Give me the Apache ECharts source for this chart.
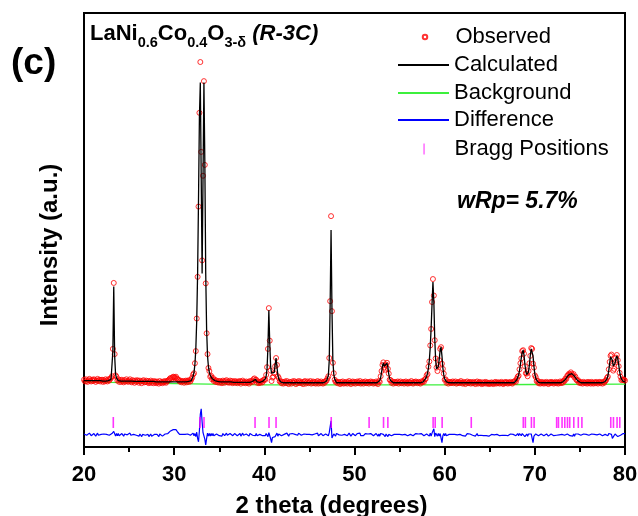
<!DOCTYPE html>
<html>
<head>
<meta charset="utf-8">
<script src="https://cdn.jsdelivr.net/npm/echarts@6/dist/echarts.min.js"></script>
<style>
  html, body { margin: 0; padding: 0; background: #fff; }
  #chart { width: 638px; height: 516px; }
</style>
</head>
<body>
<div id="chart"></div>
<script>
// Powder pattern of LaNi0.6Co0.4O3-d, sampled every 0.1 degree from 20 to 80 (2 theta).
const thetaStart = 20.0;
const thetaStep = 0.1;

// Observed intensity (a.u.)
const observed = [
  15.5, 15.1, 15.6, 15.2, 15.0, 15.4, 15.7, 15.3, 15.1, 15.5, // 20
  15.2, 15.6, 15.4, 15.0, 15.3, 15.7, 15.2, 15.5, 15.1, 15.4, // 21
  15.5, 15.0, 15.4, 15.1, 15.6, 15.3, 15.1, 15.6, 15.3, 15.7, // 22
  15.9, 16.3, 22.6, 37.8, 21.4, 16.5, 16.2, 15.3, 15.6, 15.0, // 23
  15.4, 15.0, 15.5, 15.2, 14.9, 15.4, 15.1, 15.6, 15.2, 15.0, // 24
  15.3, 15.6, 15.1, 14.9, 15.4, 15.2, 14.8, 15.3, 15.0, 15.4, // 25
  15.2, 14.8, 15.3, 15.1, 14.7, 15.2, 15.4, 14.9, 15.0, 15.3, // 26
  14.9, 15.2, 14.7, 15.0, 15.3, 14.8, 15.1, 14.7, 15.2, 15.0, // 27
  14.7, 15.1, 14.9, 14.6, 15.2, 14.8, 15.0, 14.7, 15.1, 14.9, // 28
  15.2, 14.8, 15.1, 15.3, 15.4, 15.7, 15.9, 15.6, 16.0, 16.2, // 29
  16.1, 15.9, 16.2, 15.8, 15.6, 15.4, 15.1, 15.3, 14.9, 15.1, // 30
  15.2, 14.8, 15.1, 15.3, 14.9, 15.3, 15.0, 15.4, 15.1, 15.6, // 31
  16.0, 16.7, 17.0, 19.3, 22.1, 29.6, 39.2, 55.4, 77.0, 88.7, // 32
  68.0, 43.0, 62.5, 84.3, 65.0, 37.7, 26.2, 21.4, 18.2, 17.5, // 33
  16.2, 16.4, 15.6, 15.9, 15.2, 15.5, 15.0, 15.3, 14.9, 15.2, // 34
  14.8, 15.2, 15.0, 14.7, 15.3, 15.1, 14.8, 15.2, 15.4, 14.9, // 35
  15.1, 14.8, 15.3, 14.9, 15.2, 14.7, 15.0, 15.2, 14.8, 15.1, // 36
  14.7, 15.1, 14.9, 15.2, 14.6, 15.0, 15.3, 14.8, 15.0, 14.7, // 37
  15.1, 14.8, 15.0, 14.6, 15.2, 14.9, 15.2, 15.0, 15.6, 15.8, // 38
  15.4, 15.5, 14.8, 15.1, 14.7, 15.0, 14.8, 15.2, 14.9, 15.4, // 39
  15.6, 15.5, 16.6, 18.4, 22.6, 32.0, 24.5, 17.6, 15.2, 16.0, // 40
  16.2, 17.0, 18.6, 20.5, 18.9, 16.3, 15.9, 15.1, 15.2, 14.7, // 41
  15.0, 14.6, 14.9, 15.1, 14.7, 15.2, 14.8, 14.5, 15.0, 14.9, // 42
  14.6, 15.1, 14.8, 15.2, 14.9, 14.5, 15.0, 14.7, 15.2, 14.8, // 43
  15.1, 14.7, 14.9, 14.5, 15.0, 15.2, 14.6, 14.9, 15.1, 14.7, // 44
  14.9, 15.2, 14.6, 14.8, 15.1, 14.7, 15.0, 14.6, 14.9, 15.2, // 45
  14.6, 15.0, 14.7, 15.1, 14.8, 14.6, 15.0, 14.8, 15.2, 15.3, // 46
  15.8, 16.3, 20.5, 33.6, 53.2, 31.3, 19.4, 17.0, 15.5, 15.0, // 47
  15.1, 14.7, 15.0, 14.8, 14.5, 15.0, 14.7, 15.1, 14.6, 14.9, // 48
  14.7, 15.0, 14.6, 14.9, 15.2, 14.8, 14.5, 14.9, 15.1, 14.7, // 49
  15.0, 14.6, 14.9, 15.1, 14.7, 14.9, 15.2, 14.6, 14.8, 15.0, // 50
  14.6, 14.9, 15.1, 14.7, 14.8, 15.0, 14.6, 14.9, 15.1, 14.8, // 51
  15.0, 14.6, 14.9, 14.7, 15.1, 14.8, 14.5, 15.2, 15.0, 16.3, // 52
  17.5, 18.9, 19.5, 18.3, 17.8, 19.0, 19.4, 18.0, 16.9, 15.5, // 53
  15.4, 14.8, 15.1, 14.6, 14.9, 15.0, 14.7, 14.9, 15.1, 14.6, // 54
  14.9, 15.1, 14.7, 14.8, 15.0, 14.6, 14.9, 15.1, 14.8, 14.6, // 55
  15.0, 14.7, 14.9, 15.2, 14.8, 14.6, 15.0, 14.8, 15.1, 14.9, // 56
  14.7, 15.0, 14.8, 14.6, 15.1, 14.9, 15.2, 15.0, 15.6, 15.7, // 57
  16.5, 16.8, 18.5, 19.7, 23.4, 27.2, 33.4, 38.7, 34.9, 24.6, // 58
  20.4, 18.3, 17.5, 18.9, 20.0, 22.6, 23.0, 19.2, 18.0, 16.9, // 59
  15.5, 15.6, 14.8, 15.1, 14.6, 14.9, 15.0, 14.7, 14.9, 15.1, // 60
  14.7, 14.9, 15.1, 14.6, 14.8, 15.0, 14.7, 14.9, 15.2, 14.8, // 61
  14.6, 15.0, 14.8, 14.5, 14.9, 15.1, 14.7, 14.8, 15.0, 14.6, // 62
  14.9, 14.7, 15.0, 14.8, 14.5, 14.9, 15.1, 14.6, 14.8, 15.0, // 63
  14.7, 14.5, 14.9, 14.6, 14.8, 15.0, 14.6, 14.9, 14.7, 14.5, // 64
  14.8, 14.6, 14.9, 14.7, 14.5, 14.8, 15.0, 14.6, 14.9, 14.7, // 65
  14.9, 14.6, 14.8, 15.0, 14.7, 14.5, 14.9, 14.7, 15.0, 14.8, // 66
  14.6, 14.9, 14.7, 15.0, 14.8, 14.6, 14.9, 15.1, 15.2, 15.0, // 67
  15.7, 16.2, 16.4, 17.9, 19.3, 20.4, 22.1, 22.3, 21.5, 18.6, // 68
  17.0, 16.9, 16.3, 17.5, 19.3, 21.0, 22.8, 22.6, 19.2, 18.3, // 69
  16.5, 16.1, 15.2, 15.3, 14.7, 14.9, 14.6, 15.0, 14.7, 14.9, // 70
  14.6, 14.9, 14.7, 15.0, 14.8, 14.5, 14.9, 14.7, 15.0, 14.8, // 71
  14.9, 14.6, 14.8, 15.0, 14.7, 14.9, 14.6, 14.8, 15.1, 14.7, // 72
  15.0, 14.8, 15.3, 15.2, 15.8, 15.7, 16.4, 16.6, 16.9, 16.7, // 73
  17.2, 16.8, 16.5, 16.8, 16.0, 16.2, 15.5, 15.3, 15.4, 14.8, // 74
  15.0, 14.7, 14.9, 14.6, 15.0, 14.8, 14.7, 14.9, 14.6, 15.0, // 75
  14.7, 14.9, 14.6, 15.0, 14.8, 14.6, 14.9, 14.7, 15.0, 14.8, // 76
  14.6, 14.9, 15.0, 14.7, 14.9, 14.6, 15.0, 14.8, 15.2, 15.4, // 77
  15.9, 16.2, 17.9, 19.6, 21.0, 21.3, 19.2, 17.6, 18.0, 19.5, // 78
  20.6, 21.2, 20.0, 18.6, 17.1, 16.2, 15.4, 15.6, 15.4, 15.5, // 79
  15.3                                                        // 80
];

// Calculated profile (a.u.)
const calculated = [
  15.3, 15.3, 15.3, 15.3, 15.3, 15.3, 15.3, 15.3, 15.3, 15.3, // 20
  15.3, 15.3, 15.3, 15.3, 15.3, 15.3, 15.3, 15.3, 15.3, 15.3, // 21
  15.2, 15.2, 15.2, 15.2, 15.2, 15.2, 15.3, 15.3, 15.4, 15.5, // 22
  15.6, 16.0, 22.0, 37.0, 21.0, 16.8, 15.9, 15.5, 15.3, 15.2, // 23
  15.2, 15.2, 15.2, 15.2, 15.2, 15.2, 15.2, 15.2, 15.2, 15.2, // 24
  15.2, 15.2, 15.2, 15.2, 15.2, 15.1, 15.1, 15.1, 15.1, 15.1, // 25
  15.1, 15.1, 15.1, 15.1, 15.1, 15.1, 15.1, 15.1, 15.1, 15.1, // 26
  15.1, 15.1, 15.1, 15.1, 15.1, 15.1, 15.1, 15.1, 15.1, 15.1, // 27
  15.0, 15.0, 15.0, 15.0, 15.0, 15.0, 15.0, 15.0, 15.0, 15.0, // 28
  15.0, 15.0, 15.0, 15.0, 15.0, 15.0, 15.0, 15.0, 15.0, 15.0, // 29
  15.0, 15.0, 15.0, 15.0, 15.0, 15.0, 15.0, 15.0, 15.0, 15.0, // 30
  15.0, 15.0, 15.0, 15.0, 15.1, 15.1, 15.1, 15.2, 15.2, 15.3, // 31
  15.8, 16.3, 17.2, 19.0, 22.5, 29.0, 40.0, 57.0, 76.0, 84.0, // 32
  62.0, 40.0, 62.0, 84.0, 66.0, 40.0, 27.0, 21.0, 18.5, 17.2, // 33
  16.5, 16.1, 15.8, 15.6, 15.4, 15.3, 15.2, 15.1, 15.1, 15.0, // 34
  15.0, 15.0, 15.0, 15.0, 15.0, 15.0, 15.0, 15.0, 15.0, 15.0, // 35
  15.0, 15.0, 15.0, 15.0, 15.0, 14.9, 14.9, 14.9, 14.9, 14.9, // 36
  14.9, 14.9, 14.9, 14.9, 14.9, 14.9, 14.9, 14.9, 14.9, 14.9, // 37
  14.9, 14.9, 14.9, 14.9, 14.9, 14.9, 15.0, 15.1, 15.3, 15.5, // 38
  15.6, 15.2, 15.0, 14.9, 14.9, 14.9, 15.0, 15.0, 15.1, 15.2, // 39
  15.4, 15.7, 16.3, 18.0, 23.0, 31.5, 24.0, 18.5, 17.0, 16.6, // 40
  16.6, 17.2, 19.0, 20.5, 18.5, 16.6, 15.7, 15.3, 15.0, 14.9, // 41
  14.8, 14.8, 14.8, 14.8, 14.8, 14.8, 14.8, 14.8, 14.8, 14.8, // 42
  14.8, 14.8, 14.8, 14.8, 14.8, 14.8, 14.8, 14.8, 14.8, 14.8, // 43
  14.8, 14.8, 14.8, 14.8, 14.8, 14.8, 14.8, 14.8, 14.8, 14.8, // 44
  14.8, 14.8, 14.8, 14.8, 14.8, 14.8, 14.8, 14.8, 14.8, 14.8, // 45
  14.8, 14.8, 14.8, 14.8, 14.8, 14.8, 14.8, 14.9, 15.0, 15.2, // 46
  15.6, 16.5, 20.0, 33.0, 50.0, 32.0, 20.0, 16.8, 15.7, 15.3, // 47
  14.8, 14.8, 14.8, 14.8, 14.8, 14.8, 14.8, 14.8, 14.8, 14.8, // 48
  14.8, 14.8, 14.8, 14.8, 14.8, 14.8, 14.8, 14.8, 14.8, 14.8, // 49
  14.8, 14.8, 14.8, 14.8, 14.8, 14.8, 14.8, 14.8, 14.8, 14.8, // 50
  14.8, 14.8, 14.8, 14.8, 14.8, 14.8, 14.8, 14.8, 14.8, 14.8, // 51
  14.8, 14.8, 14.8, 14.8, 14.8, 14.8, 14.8, 15.0, 15.3, 16.0, // 52
  17.2, 18.6, 19.4, 18.6, 18.2, 18.8, 19.3, 18.4, 16.8, 15.8, // 53
  15.3, 15.0, 14.9, 14.8, 14.8, 14.8, 14.8, 14.8, 14.8, 14.8, // 54
  14.8, 14.8, 14.8, 14.8, 14.8, 14.8, 14.8, 14.8, 14.8, 14.8, // 55
  14.8, 14.8, 14.8, 14.8, 14.8, 14.8, 14.8, 14.8, 14.8, 14.8, // 56
  14.8, 14.8, 14.8, 14.8, 14.8, 14.9, 15.0, 15.2, 15.4, 15.8, // 57
  16.3, 17.0, 18.2, 20.0, 23.0, 27.5, 33.0, 38.0, 33.5, 25.0, // 58
  20.0, 18.0, 17.8, 18.6, 20.3, 22.3, 23.0, 21.0, 18.2, 16.6, // 59
  15.7, 15.3, 15.0, 14.9, 14.8, 14.8, 14.8, 14.8, 14.8, 14.8, // 60
  14.8, 14.8, 14.8, 14.8, 14.8, 14.8, 14.8, 14.8, 14.8, 14.8, // 61
  14.8, 14.8, 14.8, 14.8, 14.8, 14.8, 14.8, 14.8, 14.8, 14.8, // 62
  14.8, 14.8, 14.8, 14.8, 14.8, 14.8, 14.8, 14.8, 14.8, 14.8, // 63
  14.8, 14.8, 14.8, 14.8, 14.8, 14.8, 14.8, 14.8, 14.8, 14.8, // 64
  14.8, 14.8, 14.8, 14.8, 14.8, 14.8, 14.8, 14.8, 14.8, 14.8, // 65
  14.8, 14.8, 14.8, 14.8, 14.8, 14.8, 14.8, 14.8, 14.8, 14.8, // 66
  14.8, 14.8, 14.8, 14.8, 14.8, 14.8, 14.8, 14.8, 15.0, 15.2, // 67
  15.5, 15.9, 16.6, 17.6, 19.0, 20.6, 21.8, 22.3, 21.2, 19.0, // 68
  17.4, 16.7, 16.6, 17.3, 19.0, 21.2, 22.6, 22.8, 21.0, 18.6, // 69
  16.8, 15.9, 15.4, 15.1, 14.9, 14.8, 14.8, 14.8, 14.8, 14.8, // 70
  14.8, 14.8, 14.8, 14.8, 14.8, 14.8, 14.8, 14.8, 14.8, 14.8, // 71
  14.8, 14.8, 14.8, 14.8, 14.8, 14.8, 14.8, 14.8, 14.8, 14.8, // 72
  14.9, 15.0, 15.1, 15.3, 15.6, 15.9, 16.2, 16.5, 16.7, 16.9, // 73
  17.0, 16.9, 16.8, 16.6, 16.3, 16.0, 15.7, 15.4, 15.2, 15.0, // 74
  14.9, 14.8, 14.8, 14.8, 14.8, 14.8, 14.8, 14.8, 14.8, 14.8, // 75
  14.8, 14.8, 14.8, 14.8, 14.8, 14.8, 14.8, 14.8, 14.8, 14.8, // 76
  14.8, 14.8, 14.8, 14.8, 14.8, 14.8, 14.9, 14.9, 15.1, 15.3, // 77
  15.7, 16.4, 17.6, 19.3, 20.8, 21.2, 20.0, 18.6, 18.4, 19.3, // 78
  20.4, 21.0, 20.4, 19.0, 17.4, 16.3, 15.7, 15.3, 15.1, 15.0, // 79
  15.0                                                        // 80
];

// Refined background: [2 theta, intensity]
const backgroundPoints = [
  [20, 15.0], [30, 14.6], [40, 14.3], [50, 14.3], [60, 14.3], [70, 14.4], [80, 14.5]
];

// Reflection positions of the R-3c phase (2 theta)
const braggPositions = [
  23.25, 32.86, 33.31, 38.97, 40.52, 41.30, 47.42, 51.62, 53.22, 53.70,
  58.72, 58.95, 59.72, 62.95, 68.72, 68.95, 69.62, 69.92, 72.42, 72.62,
  73.02, 73.32, 73.62, 73.87, 74.32, 74.82, 75.22, 78.42, 78.72, 79.12, 79.42
];

// Vertical placement of the lower panel (in intensity units)
const diffOffset = 2.8;
const braggLevel = 5.65;

const FONT = '"Liberation Sans", Arial, Helvetica, sans-serif';

const theta = observed.map((_, i) => +(thetaStart + i * thetaStep).toFixed(1));
const obsData = observed.map((v, i) => [theta[i], v]);
const calcData = calculated.map((v, i) => [theta[i], v]);
const diffData = observed.map((v, i) => [theta[i], +(v - calculated[i] + diffOffset).toFixed(2)]);
const braggData = braggPositions.map(p => [p, braggLevel]);

const chart = echarts.init(document.getElementById('chart'), null, { renderer: 'canvas' });

// One legend block per row so each key can have its own marker size.
const legendRow = (name, left, top, h, extra) => Object.assign({
  data: [name],
  orient: 'vertical',
  left: left,
  top: top,
  padding: 0,
  itemWidth: 51,
  itemHeight: h,
  selectedMode: false,
  textStyle: { fontFamily: FONT, fontSize: 22, color: '#000' }
}, extra || {});

chart.setOption({
  animation: false,
  backgroundColor: '#fff',
  title: [
    {
      left: 90, top: 17, padding: 0,
      text: '{m|LaNi}{s|0.6}{m|Co}{s|0.4}{m|O}{s|3-δ}{m| }{i|(R-3C)}',
      textStyle: {
        rich: {
          m: { fontFamily: FONT, fontSize: 22, fontWeight: 'bold', color: '#000' },
          s: { fontFamily: FONT, fontSize: 14.5, fontWeight: 'bold', color: '#000', padding: [18, 0, 0, 0] },
          i: { fontFamily: FONT, fontSize: 22, fontWeight: 'bold', fontStyle: 'italic', color: '#000' }
        }
      }
    },
    {
      left: 11, top: 45, padding: 0, text: '(c)',
      textStyle: { fontFamily: FONT, fontSize: 37, fontWeight: 'bold', color: '#000' }
    },
    {
      left: 457, top: 190, padding: 0, text: 'wRp= 5.7%',
      textStyle: { fontFamily: FONT, fontSize: 23, fontWeight: 'bold', fontStyle: 'italic', color: '#000' }
    }
  ],
  legend: [
    legendRow('Observed', 421.75, 26, 4.5, { icon: 'circle' }),
    legendRow('Calculated', 397, 54, 1, { itemStyle: { opacity: 0 } }),
    legendRow('Background', 397, 82, 1, { itemStyle: { opacity: 0 } }),
    legendRow('Difference', 397, 109, 1, { itemStyle: { opacity: 0 } }),
    legendRow('Bragg Positions', 423.5, 138, 11, { data: [{ name: 'Bragg Positions', icon: 'path://M0,0H1V10H0Z' }] })
  ],
  grid: {
    left: 84, right: 13, top: 13, bottom: 69,
    outerBoundsMode: 'none', containLabel: false,
    show: true, borderColor: '#000', borderWidth: 2, backgroundColor: 'transparent'
  },
  xAxis: {
    type: 'value', min: 20, max: 80, interval: 10,
    axisLine: { lineStyle: { color: '#000', width: 2 } },
    axisTick: { length: 8, lineStyle: { color: '#000', width: 2 } },
    minorTick: { show: true, splitNumber: 2, length: 5, lineStyle: { color: '#000', width: 2 } },
    splitLine: { show: false },
    axisLabel: { fontFamily: FONT, fontSize: 22, fontWeight: 'bold', color: '#000', margin: 17 },
    name: '2 theta (degrees)', nameLocation: 'middle', nameGap: 47,
    nameTextStyle: { fontFamily: FONT, fontSize: 24, fontWeight: 'bold', color: '#000', padding: [0, 46, 0, 0] }
  },
  yAxis: {
    type: 'value', min: 0, max: 100,
    axisLine: { show: true, lineStyle: { color: '#000', width: 2 } },
    axisTick: { show: false },
    axisLabel: { show: false },
    splitLine: { show: false },
    name: 'Intensity (a.u.)', nameLocation: 'middle', nameRotate: 90, nameGap: 22,
    nameTextStyle: { fontFamily: FONT, fontSize: 24, fontWeight: 'bold', color: '#000', padding: [0, 30, 0, 0] }
  },
  series: [
    {
      name: 'Background', type: 'line', data: backgroundPoints, symbol: 'none', z: 1,
      lineStyle: { color: '#3cf03c', width: 1.3 }, itemStyle: { color: '#3cf03c' }
    },
    {
      name: 'Observed', type: 'scatter', data: obsData, symbol: 'circle', symbolSize: 5, z: 2,
      itemStyle: { color: 'rgba(255,0,0,0)', borderColor: '#ff0000', borderWidth: 1 }
    },
    {
      name: 'Calculated', type: 'line', data: calcData, symbol: 'none', z: 3,
      lineStyle: { color: '#000', width: 1.3 }, itemStyle: { color: '#000' }
    },
    {
      name: 'Difference', type: 'line', data: diffData, symbol: 'none', z: 3,
      lineStyle: { color: '#0000ff', width: 1.2 }, itemStyle: { color: '#0000ff' }
    },
    {
      name: 'Bragg Positions', type: 'scatter', data: braggData, symbol: 'rect', symbolSize: [1.6, 11], z: 3,
      itemStyle: { color: '#ff00ff' }
    }
  ]
});
</script>
</body>
</html>
